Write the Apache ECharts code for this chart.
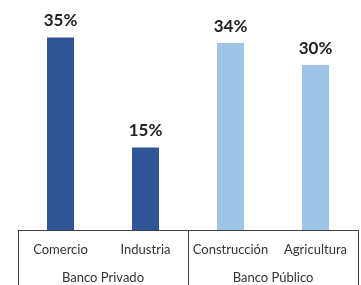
<!DOCTYPE html>
<html>
<head>
<meta charset="utf-8">
<script src="https://cdn.jsdelivr.net/npm/echarts@6/dist/echarts.min.js"></script>
<style>
  html, body { margin: 0; padding: 0; background: #fff; }
  #chart { width: 361px; height: 285px; }
</style>
</head>
<body>
<div id="chart"></div>
<script>
// datos
var categories = ['Comercio', 'Industria', 'Construcción', 'Agricultura']
var groups = ['Banco Privado', 'Banco Público']
var values = [35, 15, 34, 30]
var barColors = ['#2F5597', '#2F5597', '#9DC3E6', '#9DC3E6']

var chart = echarts.init(document.getElementById('chart'))
chart.setOption({
  animation: false,
  textStyle: { fontFamily: 'Lato' },
  grid: { left: 18, right: 3, top: 10, bottom: 55 },
  xAxis: [
    {
      type: 'category',
      data: categories,
      axisLine: { show: true, lineStyle: { color: '#404040', width: 1 } },
      axisTick: { show: false },
      axisLabel: { interval: 0, color: '#333', fontSize: 13, margin: 13, fontFamily: 'Lato' }
    },
    {
      type: 'category',
      data: groups,
      position: 'bottom',
      axisLine: { show: false },
      axisTick: { show: true, length: 56, lineStyle: { color: '#404040', width: 1 } },
      axisLabel: { interval: 0, color: '#333', fontSize: 13, margin: 41, fontFamily: 'Lato' }
    }
  ],
  yAxis: {
    type: 'value',
    min: 0,
    max: 40,
    show: false,
    splitLine: { show: false }
  },
  series: [
    {
      type: 'bar',
      xAxisIndex: 0,
      barWidth: 27,
      data: values.map(function (v, i) {
        return { value: v, itemStyle: { color: barColors[i] } }
      }),
      label: {
        show: true,
        position: 'top',
        distance: 8,
        formatter: '{c}%',
        color: '#222',
        fontSize: 17,
        fontWeight: 'bold',
        fontFamily: 'Lato'
      }
    }
  ]
})
</script>
</body>
</html>
